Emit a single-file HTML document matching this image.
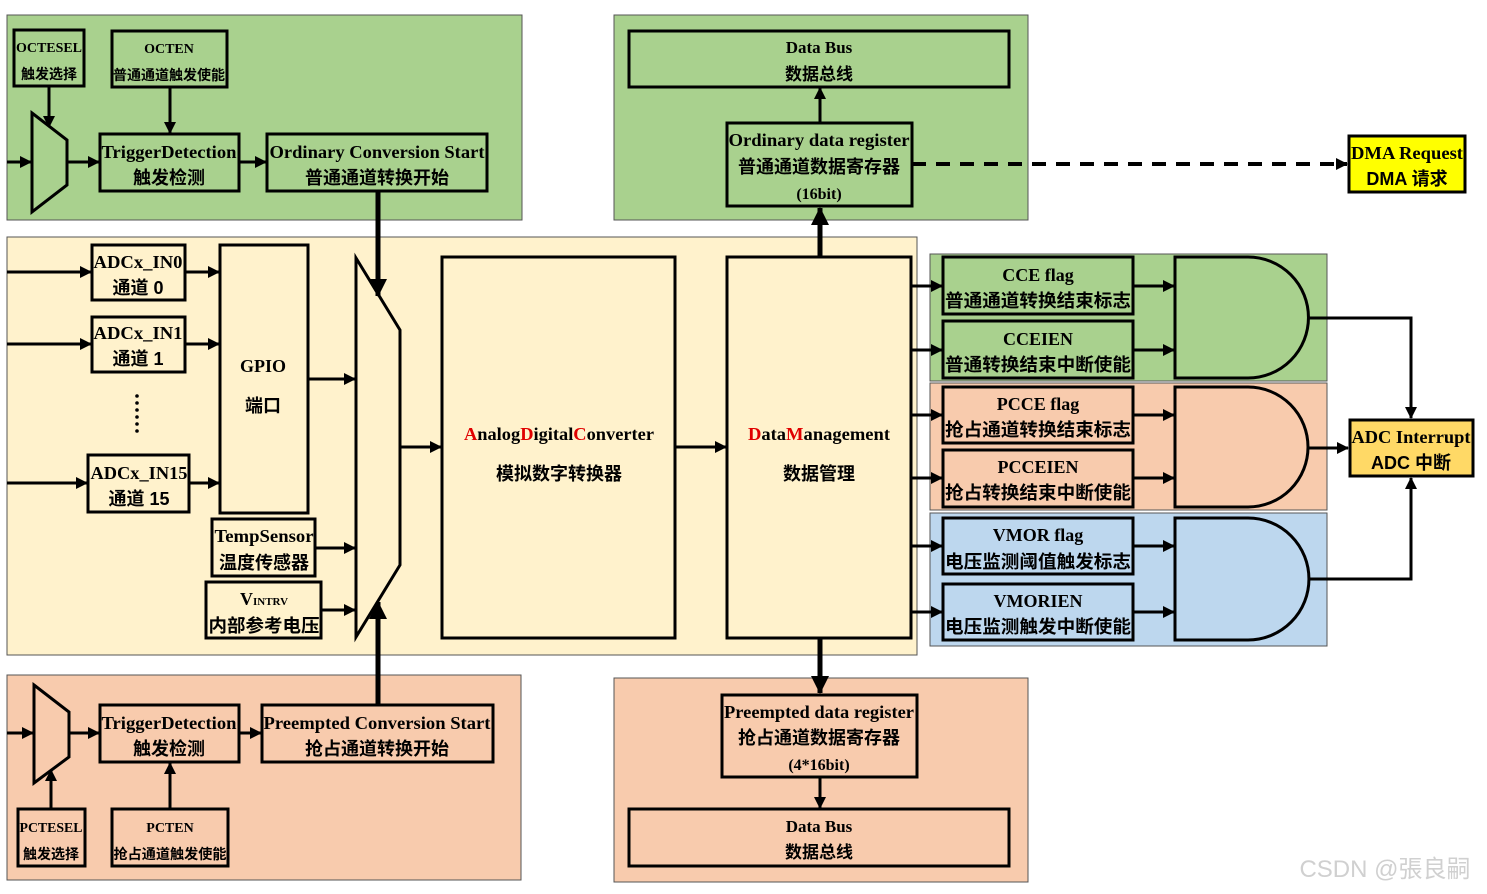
<!DOCTYPE html>
<html><head><meta charset="utf-8"><style>
html,body{margin:0;padding:0;background:#fff;}
svg{display:block;}
text{font-family:"Liberation Serif","Noto Sans CJK SC",serif;font-weight:bold;fill:#000;text-anchor:middle;}
.c{font-family:"Liberation Sans","Noto Sans CJK SC",sans-serif;}
</style></head><body>
<svg width="1487" height="894" viewBox="0 0 1487 894" xmlns="http://www.w3.org/2000/svg">
<defs>
<marker id="a" markerWidth="12" markerHeight="12" refX="11" refY="6" orient="auto" markerUnits="userSpaceOnUse"><path d="M0,0 L12,6 L0,12 z" fill="#000"/></marker>
<marker id="b" markerWidth="18" markerHeight="18" refX="17" refY="9" orient="auto" markerUnits="userSpaceOnUse"><path d="M0,0 L18,9 L0,18 z" fill="#000"/></marker>
</defs>
<rect x="7" y="15" width="515" height="205" fill="#a9d18e" stroke="#555" stroke-width="1"/>
<rect x="614" y="15" width="414" height="205" fill="#a9d18e" stroke="#555" stroke-width="1"/>
<rect x="7" y="237" width="910" height="418" fill="#fff2cc" stroke="#555" stroke-width="1"/>
<rect x="7" y="675" width="514" height="205" fill="#f8cbad" stroke="#555" stroke-width="1"/>
<rect x="614" y="678" width="414" height="204" fill="#f8cbad" stroke="#555" stroke-width="1"/>
<rect x="930" y="254" width="397" height="127" fill="#a9d18e" stroke="#555" stroke-width="1"/>
<rect x="930" y="383" width="397" height="127" fill="#f8cbad" stroke="#555" stroke-width="1"/>
<rect x="930" y="513" width="397" height="133" fill="#bdd7ee" stroke="#555" stroke-width="1"/>

<g fill="none" stroke="#000" stroke-width="3">
<rect x="14" y="30" width="70" height="56"/>
<rect x="112" y="31" width="115" height="56"/>
<polygon points="32,113 67,140 67,185 32,212"/>
<rect x="100" y="134" width="139" height="57"/>
<rect x="267" y="134" width="220" height="57"/>
<rect x="629" y="31" width="380" height="56"/>
<rect x="727" y="123" width="185" height="83"/>
<rect x="92" y="245" width="93" height="55"/>
<rect x="92" y="317" width="93" height="55"/>
<rect x="88" y="455" width="101" height="57"/>
<rect x="220" y="245" width="88" height="268"/>
<rect x="212" y="519" width="103" height="57"/>
<rect x="206" y="582" width="115" height="56"/>
<polygon points="356,258 400,330 400,565 356,637"/>
<rect x="442" y="257" width="233" height="381"/>
<rect x="727" y="257" width="184" height="381"/>
<rect x="943" y="257" width="190" height="57"/>
<rect x="943" y="321" width="190" height="57"/>
<rect x="943" y="387" width="190" height="56"/>
<rect x="943" y="450" width="190" height="57"/>
<rect x="943" y="518" width="190" height="56"/>
<rect x="943" y="584" width="190" height="56"/>
<path d="M1175,257 L1248,257 A60.5,60.5 0 0 1 1248,378 L1175,378 Z"/>
<path d="M1175,387 L1248,387 A60,60 0 0 1 1248,507 L1175,507 Z"/>
<path d="M1175,518 L1248,518 A61,61 0 0 1 1248,640 L1175,640 Z"/>
<polygon points="34,685 69,712 69,757 34,783"/>
<rect x="100" y="705" width="139" height="57"/>
<rect x="262" y="705" width="231" height="57"/>
<rect x="18" y="809" width="67" height="57"/>
<rect x="112" y="809" width="116" height="57"/>
<rect x="722" y="695" width="195" height="82"/>
<rect x="629" y="809" width="380" height="57"/>
</g>
<rect x="1349" y="136" width="116" height="56" fill="#ffff00" stroke="#000" stroke-width="3"/>
<rect x="1350" y="420" width="123" height="56" fill="#ffd966" stroke="#000" stroke-width="3"/>

<g stroke="#000" stroke-width="3" fill="none" marker-end="url(#a)">
<line x1="49" y1="86" x2="49" y2="127"/>
<line x1="170" y1="87" x2="170" y2="133"/>
<line x1="7" y1="162" x2="31" y2="162"/>
<line x1="67" y1="162" x2="99" y2="162"/>
<line x1="239" y1="162" x2="266" y2="162"/>
<line x1="820" y1="123" x2="820" y2="88"/>
<line x1="7" y1="272" x2="91" y2="272"/>
<line x1="7" y1="344" x2="91" y2="344"/>
<line x1="7" y1="483" x2="87" y2="483"/>
<line x1="185" y1="272" x2="219" y2="272"/>
<line x1="185" y1="344" x2="219" y2="344"/>
<line x1="189" y1="483" x2="219" y2="483"/>
<line x1="308" y1="379" x2="355" y2="379"/>
<line x1="315" y1="548" x2="355" y2="548"/>
<line x1="321" y1="610" x2="355" y2="610"/>
<line x1="400" y1="447" x2="441" y2="447"/>
<line x1="675" y1="447" x2="726" y2="447"/>
<line x1="911" y1="286" x2="942" y2="286"/>
<line x1="911" y1="350" x2="942" y2="350"/>
<line x1="911" y1="415" x2="942" y2="415"/>
<line x1="911" y1="478" x2="942" y2="478"/>
<line x1="911" y1="546" x2="942" y2="546"/>
<line x1="911" y1="612" x2="942" y2="612"/>
<line x1="1133" y1="286" x2="1174" y2="286"/>
<line x1="1133" y1="350" x2="1174" y2="350"/>
<line x1="1133" y1="415" x2="1174" y2="415"/>
<line x1="1133" y1="478" x2="1174" y2="478"/>
<line x1="1133" y1="546" x2="1174" y2="546"/>
<line x1="1133" y1="612" x2="1174" y2="612"/>
<polyline points="1308,318 1411,318 1411,418"/>
<line x1="1308" y1="448" x2="1348" y2="448"/>
<polyline points="1308,579 1411,579 1411,478"/>
<line x1="7" y1="733" x2="33" y2="733"/>
<line x1="69" y1="733" x2="99" y2="733"/>
<line x1="239" y1="733" x2="261" y2="733"/>
<line x1="51" y1="809" x2="51" y2="770"/>
<line x1="170" y1="809" x2="170" y2="763"/>
<line x1="820" y1="777" x2="820" y2="808"/>
<line x1="912" y1="164" x2="1347" y2="164" stroke-width="4" stroke-dasharray="14,10"/>
</g>
<g stroke="#000" stroke-width="5" fill="none" marker-end="url(#b)">
<line x1="378" y1="191" x2="378" y2="296"/>
<line x1="378" y1="705" x2="378" y2="602"/>
<line x1="820" y1="257" x2="820" y2="208"/>
<line x1="820" y1="638" x2="820" y2="693"/>
</g>
<g fill="#000"><circle cx="137" cy="396" r="1.8"/><circle cx="137" cy="403" r="1.8"/><circle cx="137" cy="410" r="1.8"/><circle cx="137" cy="417" r="1.8"/><circle cx="137" cy="424" r="1.8"/><circle cx="137" cy="431" r="1.8"/></g>

<g font-size="14">
<text x="49" y="52" textLength="66" lengthAdjust="spacingAndGlyphs">OCTESEL</text><text x="49" y="79" class="c">触发选择</text>
<text x="169" y="53">OCTEN</text><text x="169" y="80" class="c" textLength="112" lengthAdjust="spacingAndGlyphs">普通通道触发使能</text>
<text x="51" y="832" textLength="63" lengthAdjust="spacingAndGlyphs">PCTESEL</text><text x="51" y="859" class="c">触发选择</text>
<text x="170" y="832">PCTEN</text><text x="170" y="859" class="c" textLength="113" lengthAdjust="spacingAndGlyphs">抢占通道触发使能</text>
</g>
<g font-size="18">
<text x="169" y="158" textLength="135" lengthAdjust="spacingAndGlyphs">TriggerDetection</text><text x="169" y="184" class="c">触发检测</text>
<text x="377" y="158" textLength="215" lengthAdjust="spacingAndGlyphs">Ordinary Conversion Start</text><text x="377" y="184" class="c">普通通道转换开始</text>
<text x="169" y="729" textLength="135" lengthAdjust="spacingAndGlyphs">TriggerDetection</text><text x="169" y="755" class="c">触发检测</text>
<text x="377" y="729" textLength="227" lengthAdjust="spacingAndGlyphs">Preempted Conversion Start</text><text x="377" y="755" class="c">抢占通道转换开始</text>
<text x="138" y="268" textLength="89" lengthAdjust="spacingAndGlyphs">ADCx_IN0</text><text x="138" y="294" class="c">通道 0</text>
<text x="138" y="339" textLength="89" lengthAdjust="spacingAndGlyphs">ADCx_IN1</text><text x="138" y="365" class="c">通道 1</text>
<text x="139" y="479" textLength="97" lengthAdjust="spacingAndGlyphs">ADCx_IN15</text><text x="139" y="505" class="c">通道 15</text>
<text x="263" y="372">GPIO</text><text x="263" y="412" class="c">端口</text>
<text x="264" y="542" textLength="99" lengthAdjust="spacingAndGlyphs">TempSensor</text><text x="264" y="569" class="c">温度传感器</text>
<text x="264" y="605">V<tspan font-size="11">INTRV</tspan></text><text x="264" y="632" class="c" textLength="111" lengthAdjust="spacingAndGlyphs">内部参考电压</text>
<text x="559" y="440" textLength="190" lengthAdjust="spacingAndGlyphs"><tspan fill="#e00000">A</tspan>nalog<tspan fill="#e00000">D</tspan>igital<tspan fill="#e00000">C</tspan>onverter</text>
<text x="559" y="480" class="c">模拟数字转换器</text>
<text x="819" y="440" textLength="142" lengthAdjust="spacingAndGlyphs"><tspan fill="#e00000">D</tspan>ata<tspan fill="#e00000">M</tspan>anagement</text>
<text x="819" y="480" class="c">数据管理</text>
<text x="1038" y="281">CCE flag</text><text x="1038" y="307" class="c" textLength="186" lengthAdjust="spacingAndGlyphs">普通通道转换结束标志</text>
<text x="1038" y="345">CCEIEN</text><text x="1038" y="371" class="c" textLength="186" lengthAdjust="spacingAndGlyphs">普通转换结束中断使能</text>
<text x="1038" y="410">PCCE flag</text><text x="1038" y="436" class="c" textLength="186" lengthAdjust="spacingAndGlyphs">抢占通道转换结束标志</text>
<text x="1038" y="473">PCCEIEN</text><text x="1038" y="499" class="c" textLength="186" lengthAdjust="spacingAndGlyphs">抢占转换结束中断使能</text>
<text x="1038" y="541">VMOR flag</text><text x="1038" y="568" class="c" textLength="186" lengthAdjust="spacingAndGlyphs">电压监测阈值触发标志</text>
<text x="1038" y="607">VMORIEN</text><text x="1038" y="633" class="c" textLength="186" lengthAdjust="spacingAndGlyphs">电压监测触发中断使能</text>
<text x="1411" y="443" textLength="119" lengthAdjust="spacingAndGlyphs">ADC Interrupt</text><text x="1411" y="469" class="c">ADC 中断</text>
<text x="1407" y="159" textLength="112" lengthAdjust="spacingAndGlyphs">DMA Request</text><text x="1407" y="185" class="c">DMA 请求</text>
<text x="819" y="146" textLength="181" lengthAdjust="spacingAndGlyphs">Ordinary data register</text><text x="819" y="173" class="c">普通通道数据寄存器</text>
<text x="819" y="199" font-size="16">(16bit)</text>
<text x="819" y="718" textLength="190" lengthAdjust="spacingAndGlyphs">Preempted data register</text><text x="819" y="744" class="c">抢占通道数据寄存器</text>
<text x="819" y="770" font-size="16">(4*16bit)</text>
</g>
<g font-size="17">
<text x="819" y="53">Data Bus</text><text x="819" y="80" class="c">数据总线</text>
<text x="819" y="832">Data Bus</text><text x="819" y="858" class="c">数据总线</text>
</g>
<text x="1385" y="877" font-size="24" class="c" style="font-weight:normal;fill:#d0d0d0">CSDN @張良嗣</text>
</svg>
</body></html>
